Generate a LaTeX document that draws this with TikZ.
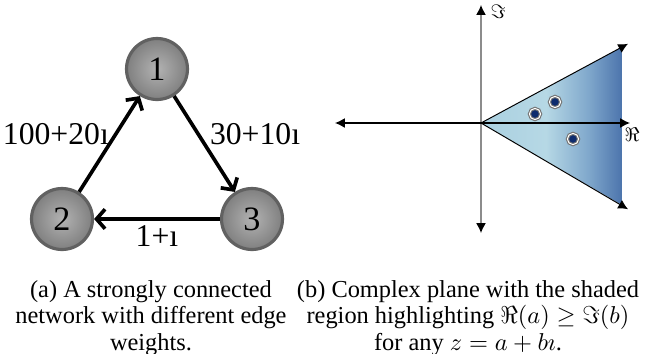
\documentclass[tikz,border=0pt]{standalone}
\usepackage{fontspec}
\setmainfont{Liberation Serif}
\usepackage{amsmath,amssymb}
\usetikzlibrary{arrows.meta,positioning}
\definecolor{planelight}{RGB}{170,208,224}
\definecolor{planepale}{RGB}{182,216,229}
\definecolor{planemid}{RGB}{128,168,204}
\definecolor{planedark}{RGB}{76,116,172}
\definecolor{zblue}{RGB}{14,44,110}
\pgfdeclarehorizontalshading{planeshade}{100bp}{color(0bp)=(planelight); color(25bp)=(planelight);
  color(48bp)=(planepale); color(63bp)=(planemid); color(75bp)=(planedark); color(100bp)=(planedark)}
\tikzset{
  vtx/.style={circle, minimum size=25pt, inner sep=0pt, draw=black!62, line width=1.3pt,
              inner color=black!30, outer color=black!50, font=\fontsize{14}{16}\selectfont},
  wedge/.style={->, line width=1.5pt, >={Straight Barb[length=3.5pt,width=8pt]}},
  wlabel/.style={font=\fontsize{13}{15}\selectfont, inner sep=1pt},
  ax/.style={{Latex[length=4pt,width=4pt]}-{Latex[length=4pt,width=4pt]}, line width=0.5pt},
  ray/.style={-{Latex[length=4pt,width=4pt]}, line width=0.4pt},
  zdot/.style={circle, inner sep=0pt, minimum size=4.6pt, fill=zblue, draw=black!55,
               double=white, double distance=0.4pt, line width=0.45pt},
  axlab/.style={inner sep=0pt, font=\footnotesize},
  captxt/.style={align=center, font=\fontsize{10}{11}\selectfont, inner sep=0pt}
}

\begin{document}
\begin{tikzpicture}[x=0.41pt, y=-0.41pt]
\useasboundingbox (0,0) rectangle (651,354);
% (a) network
\node[vtx] (n1) at (157,69) {1};
\node[vtx] (n2) at (62,219) {2};
\node[vtx] (n3) at (252,219) {3};
\draw[wedge] (n2) -- node[wlabel, pos=0.6, left=1pt] {100+20ı} (n1);
\draw[wedge] (n1) -- node[wlabel, pos=0.4, right=3pt] {30+10ı} (n3);
\draw[wedge] (n3) -- node[wlabel, below=1pt] {1+ı} (n2);
% (b) complex plane
\coordinate (O) at (481,123);
\coordinate (uv) at (622,47);
\coordinate (lv) at (622,205);
\shade[shading=planeshade] (O) -- (uv) -- (lv) -- cycle;
\draw[ax, black!45, {Latex[length=4pt,width=4pt,black]}-{Latex[length=4pt,width=4pt,black]}]
  (481,233) coordinate (ibot) -- (481,5) coordinate (itop);
\draw[ax] (335,123) coordinate (rleft) -- (630,123) coordinate (rright);
\draw[ray] (O) -- (628,43.8) coordinate (uray);
\draw[ray] (O) -- (628,209.2) coordinate (lray);
\node[axlab] (imlab) at (498,12) {$\Im$};
\node[axlab] (relab) at (632,135) {$\Re$};
\node[zdot] (z1) at (535,114) {};
\node[zdot] (z2) at (555,102) {};
\node[zdot] (z3) at (573,139) {};
% captions
\node[captxt] (capa) at (151,318) {(a) A strongly connected\\network with different edge\\weights.};
\node[captxt] (capb) at (468,318) {(b) Complex plane with the shaded\\region highlighting $\Re(a)\geq\Im(b)$\\for any $z=a+b\imath$.};
\end{tikzpicture}
\end{document}
